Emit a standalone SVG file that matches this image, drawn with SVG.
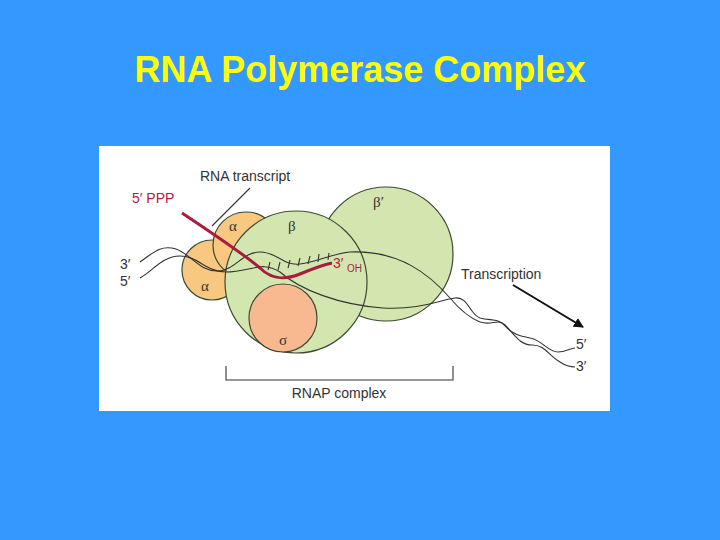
<svg xmlns="http://www.w3.org/2000/svg" width="720" height="540" viewBox="0 0 720 540">
<defs>
<style>
.t{font-family:"Liberation Sans",Arial,sans-serif;font-size:14px;fill:#333}
.g{font-family:"Liberation Serif",serif;font-size:15px;fill:#333}
.c{stroke:#3a4a35;stroke-width:1.2}
.s{fill:none;stroke:#333;stroke-width:1.1}
</style>
<marker id="ah" viewBox="0 0 10 10" refX="9" refY="5" markerWidth="5" markerHeight="5" orient="auto"><path d="M0,0L10,5L0,10z" fill="#111"/></marker>
</defs>
<rect width="720" height="540" fill="#3399FF"/>
<text x="360" y="82" text-anchor="middle" font-family="Liberation Sans,Arial,sans-serif" font-size="36" font-weight="bold" fill="#FFFF00">RNA Polymerase Complex</text>
<rect x="99" y="146" width="511" height="265" fill="#fff"/>
<g id="alpha1"><circle cx="212" cy="270" r="30" fill="#f8c880" class="c"/><text class="g" x="201" y="291">α</text></g>
<g id="alpha2"><circle cx="246" cy="245" r="33" fill="#f8c880" class="c"/><text class="g" x="229" y="231">α</text></g>
<g id="betap"><circle cx="386" cy="254" r="67" fill="#d4e6b0" class="c"/><text class="g" x="373" y="207">β′</text></g>
<g id="beta"><circle cx="296" cy="282" r="71" fill="#d4e6b0" class="c"/><text class="g" x="288" y="231">β</text></g>
<g id="sigma"><circle cx="283" cy="318" r="34" fill="#f8b990" class="c"/><text class="g" x="279" y="345">σ</text></g>
<g id="connectors">
<path class="s" d="M140,262 C152,254 160,244 176,249 C192,255 200,272 218,271 C236,270 242,252 260,252 C278,252 282,266 300,264 C318,262 330,254 350,252 C400,250 430,275 450,298 C460,310 470,318 480,322 C492,326 498,318 505,325 C515,335 520,345 532,345 C545,345 548,355 560,362 C566,366 570,367 575,367"/>
<path class="s" d="M140,278 C152,272 162,256 180,256 C198,256 206,272 226,272 C250,272 262,260 280,272 C300,290 340,305 383,308 C420,310 440,300 455,298 C468,296 470,315 480,318 C492,321 498,318 505,326 C512,334 520,336 530,338 C542,340 548,352 558,352 C566,352 570,348 575,348"/>
<path class="s" d="M268,270 l2,-8 M278,270 l2,-8 M288,268 l2,-8 M298,266 l2,-8 M308,264 l2,-8 M318,262 l1,-8 M328,260 l1,-7"/>
<path d="M182,213 C215,235 245,255 260,268 C272,280 285,280 300,274 C312,269 322,265 332,263" fill="none" stroke="#a81c3c" stroke-width="3"/>
<path class="s" d="M212,226 L250,188"/>
<path d="M513,285 L583,327" stroke="#111" stroke-width="2" marker-end="url(#ah)"/>
<path class="s" d="M226,366 V380 H453 V366"/>
</g>
<text class="t" x="200" y="181">RNA transcript</text>
<text class="t" x="132" y="203" style="fill:#b0203e">5′ PPP</text>
<text class="t" x="333" y="268" style="fill:#b0203e">3′</text>
<text class="t" x="347" y="272" style="fill:#b0203e;font-size:10px">OH</text>
<text class="t" x="120" y="269">3′</text>
<text class="t" x="120" y="286">5′</text>
<text class="t" x="461" y="279">Transcription</text>
<text class="t" x="576" y="349">5′</text>
<text class="t" x="576" y="371">3′</text>
<text class="t" x="339" y="398" text-anchor="middle">RNAP complex</text>
</svg>
